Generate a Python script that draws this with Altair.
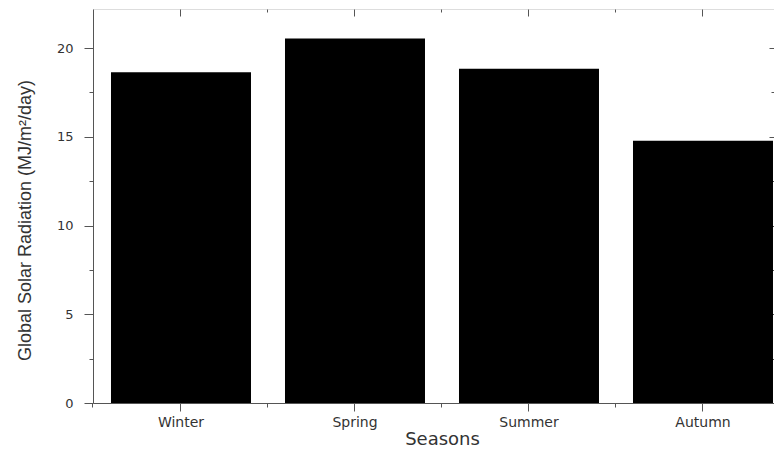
import altair as alt
import pandas as pd

seasons = ["Winter", "Spring", "Summer", "Autumn"]
radiation = [18.63, 20.54, 18.84, 14.78]
y_major = [0, 5, 10, 15, 20]
y_minor = [2.5, 7.5, 12.5, 17.5]
x_gap_ticks = ["Winter", "Spring", "Summer"]

df = pd.DataFrame({"season": seasons, "value": radiation})

AX = "#555555"
TXT = "#333333"

xscale = alt.Scale(domain=seasons, paddingInner=0.1954, paddingOuter=0.0546,
                   align=0.947, round=False)
yscale = alt.Scale(domain=[0, 22.2], nice=False, zero=True)

base = alt.Chart(df)

main = base.mark_bar(color="black").encode(
    x=alt.X("season:N", scale=xscale, sort=seasons,
            axis=alt.Axis(orient="bottom", title="Seasons", labelAngle=0,
                          tickSize=8, labelPadding=4, domainColor=AX, tickColor=AX,
                          labelFont="DejaVu Sans", labelFontSize=14, labelColor=TXT,
                          titleFont="DejaVu Sans", titleFontSize=18, titleColor=TXT,
                          titleFontWeight="normal", titleY=41, titleX=349,
                          titleBaseline="alphabetic", grid=False)),
    y=alt.Y("value:Q", scale=yscale,
            axis=alt.Axis(orient="left", title="Global Solar Radiation (MJ/m²/day)",
                          values=y_major, tickSize=9, labelPadding=11,
                          domainColor=AX, tickColor=AX, grid=False,
                          labelFont="DejaVu Sans", labelFontSize=13, labelColor=TXT,
                          titleFont="Liberation Sans", titleFontSize=18, titleColor=TXT,
                          titleFontWeight="normal", titleX=-68, titleY=211,
                          titleBaseline="middle")),
)

def ghost(xaxis, yaxis):
    return base.mark_bar(opacity=0).encode(
        x=alt.X("season:N", scale=xscale, sort=seasons, axis=xaxis),
        y=alt.Y("value:Q", scale=yscale, axis=yaxis),
    )

minor_bl = ghost(
    alt.Axis(orient="bottom", values=x_gap_ticks, bandPosition=1.1214, tickSize=4,
             labels=False, domain=False, title=None, grid=False, tickColor=AX),
    alt.Axis(orient="left", values=y_minor, tickSize=4, labels=False, domain=False,
             title=None, grid=False, tickColor=AX),
)

major_tr = ghost(
    alt.Axis(orient="top", values=seasons, offset=-7, tickSize=7, labels=False,
             domain=False, title=None, grid=False, tickColor=AX),
    alt.Axis(orient="right", values=y_major, offset=-5, tickSize=5, labels=False,
             domain=False, title=None, grid=False, tickColor=AX),
)

minor_tr = ghost(
    alt.Axis(orient="top", values=x_gap_ticks, bandPosition=1.1214, offset=-3,
             tickSize=3, labels=False, domain=False, title=None, grid=False, tickColor=AX),
    alt.Axis(orient="right", values=y_minor, offset=-3, tickSize=3, labels=False,
             domain=False, title=None, grid=False, tickColor=AX),
)

edge = base.mark_bar(opacity=0).encode(
    x=alt.X("season:N", scale=xscale, sort=seasons,
            axis=alt.Axis(orient="bottom", values=["Winter"], bandPosition=-0.1286,
                          tickSize=4, labels=False, domain=False, title=None,
                          grid=False, tickColor=AX)),
    y=alt.Y("value:Q", scale=yscale, axis=None),
)

chart = alt.layer(main, minor_bl, major_tr, minor_tr, edge).resolve_axis(
    x="independent", y="independent"
).properties(
    width=681, height=394,
    autosize=alt.AutoSizeParams(type="none"),
    padding={"left": 85, "top": 1, "right": 0, "bottom": 47},
).configure_view(stroke=AX, strokeWidth=1).configure(background="white")

chart.save("out.html", embed_options={"renderer": "svg", "actions": False})
